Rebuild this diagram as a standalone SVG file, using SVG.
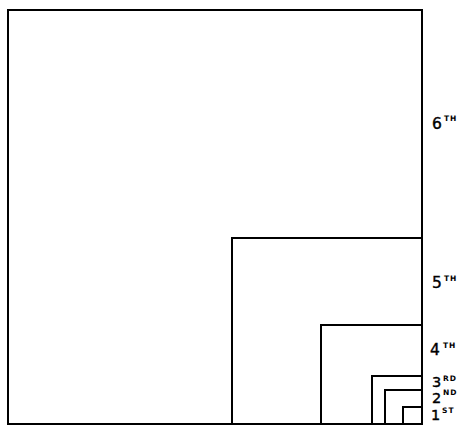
<svg xmlns="http://www.w3.org/2000/svg" width="468" height="437" viewBox="0 0 468 437">
<style>
.sq{fill:none;stroke:#000;stroke-width:2}
.n{font-family:"DejaVu Sans","Liberation Sans",sans-serif;font-size:15.5px;fill:#000;stroke:#000;stroke-width:0.4}
.m{font-size:14.5px}
.s{font-family:"DejaVu Sans","Liberation Sans",sans-serif;font-size:7.5px;font-weight:bold;letter-spacing:1px;fill:#000}
</style>
<rect width="468" height="437" fill="#fff"/>
<g id="sixth">
<rect class="sq" x="8" y="10" width="414" height="414"/>
<text class="n" x="432" y="128.5">6</text><text class="s" x="444" y="121">TH</text>
</g>
<g id="fifth">
<rect class="sq" x="232" y="238" width="190" height="186"/>
<text class="n" x="432" y="288">5</text><text class="s" x="444" y="280.5">TH</text>
</g>
<g id="fourth">
<rect class="sq" x="321" y="325" width="101" height="99"/>
<text class="n" x="430" y="355">4</text><text class="s" x="443" y="347.5">TH</text>
</g>
<g id="third">
<rect class="sq" x="372" y="376" width="50" height="48"/>
<text class="n m" x="432" y="387">3</text><text class="s" x="443" y="380.5">RD</text>
</g>
<g id="second">
<rect class="sq" x="385" y="390" width="37" height="34"/>
<text class="n m" x="432" y="403">2</text><text class="s" x="443" y="394.5">ND</text>
</g>
<g id="first">
<rect class="sq" x="403" y="407" width="19" height="17"/>
<text class="n m" x="431" y="419.5">1</text><text class="s" x="442" y="412.5">ST</text>
</g>
<g id="connectors"></g>
</svg>
